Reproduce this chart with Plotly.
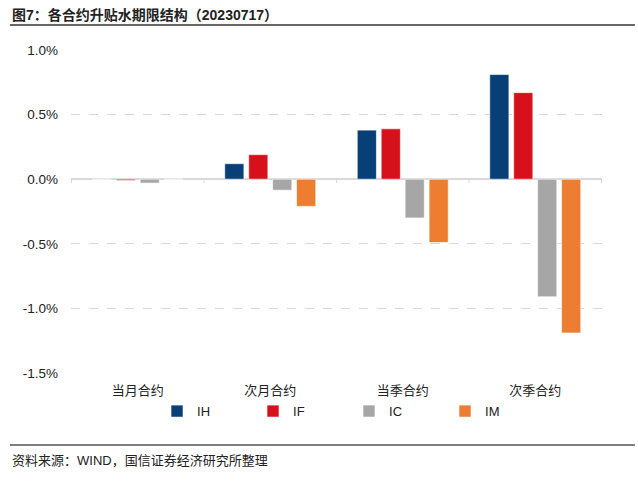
import plotly.graph_objects as go

categories = ["当月合约", "次月合约", "当季合约", "次季合约"]
series_names = ["IH", "IF", "IC", "IM"]
ih = [0.0, 0.12, 0.38, 0.81]
if_ = [-0.01, 0.19, 0.39, 0.67]
ic = [-0.03, -0.085, -0.30, -0.91]
im = [0.0, -0.21, -0.49, -1.19]
colors = ["#083F77", "#D7111C", "#A6A6A6", "#ED7D31"]
y_ticks = [-1.5, -1.0, -0.5, 0.0, 0.5, 1.0]
y_tick_labels = ["-1.5%", "-1.0%", "-0.5%", "0.0%", "0.5%", "1.0%"]

FONT = "Liberation Sans, Arial, Noto Sans CJK SC, sans-serif"

fig = go.Figure()
for name, vals, c in zip(series_names, [ih, if_, ic, im], colors):
    fig.add_trace(go.Bar(
        x=categories, y=vals, name=name,
        marker=dict(color=c, line=dict(color="rgba(255,255,255,0.6)", width=1)),
    ))

# zero-line tick marks at category boundaries
shapes = []
for b in [-0.5, 0.5, 1.5, 2.5, 3.5]:
    shapes.append(dict(type="line", xref="x", yref="y", x0=b, x1=b, y0=0, y1=-0.03,
                       line=dict(color="#D9D9D9", width=1)))
# title underline and footer line
shapes.append(dict(type="line", xref="paper", yref="paper", x0=-0.115, x1=1.062,
                   y0=1.0 + 25/323, y1=1.0 + 25/323, line=dict(color="#333333", width=1.5)))
shapes.append(dict(type="line", xref="paper", yref="paper", x0=-0.115, x1=1.062,
                   y0=-72/323, y1=-72/323, line=dict(color="#555555", width=1.5)))

fig.update_layout(
    width=638, height=483,
    margin=dict(l=71, r=36, t=50, b=110, autoexpand=False),
    paper_bgcolor="white", plot_bgcolor="white",
    font=dict(family=FONT, size=13, color="#222222"),
    barmode="group", bargap=0.277, bargroupgap=0.2,
    showlegend=True,
    legend=dict(orientation="h", x=0.162, xanchor="left", y=-0.118, yanchor="middle",
                entrywidth=51, font=dict(size=13), itemwidth=30, traceorder="normal",
                bgcolor="rgba(0,0,0,0)"),
    shapes=shapes,
    annotations=[
        dict(text="<b>图7：各合约升贴水期限结构（20230717）</b>", xref="paper", yref="paper",
             x=-0.115, y=1.0 + 35/323, xanchor="left", yanchor="middle", showarrow=False,
             font=dict(size=14, color="#222222")),
        dict(text="资料来源：WIND，国信证券经济研究所整理", xref="paper", yref="paper",
             x=-0.115, y=-87/323, xanchor="left", yanchor="middle", showarrow=False,
             font=dict(size=13, color="#222222")),
    ],
)
fig.update_yaxes(range=[-1.5, 1.0], tickvals=y_ticks, ticktext=y_tick_labels,
                 showgrid=True, gridcolor="#D9D9D9", griddash="dash", gridwidth=1,
                 zeroline=True, zerolinecolor="#D9D9D9", zerolinewidth=1.5,
                 showline=False, ticks="", tickfont=dict(size=13.5), ticklabelstandoff=12)
fig.update_xaxes(showgrid=False, showline=False, ticks="", tickfont=dict(size=13),
                 ticklabelstandoff=8)

fig.write_html("out.html", config={"displayModeBar": False},
               post_script="document.body.style.margin='0';")
